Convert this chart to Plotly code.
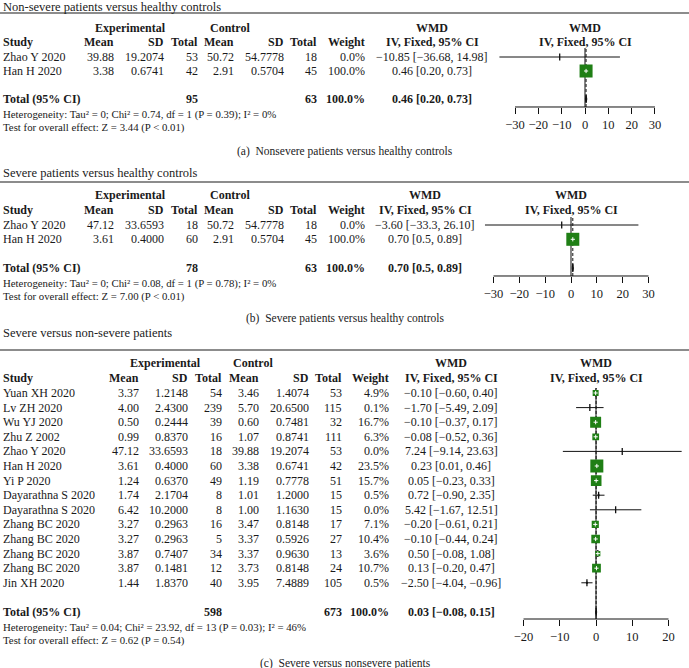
import math
import plotly.graph_objects as go

W, H = 689, 668
FONT = "Liberation Serif"
GREEN = "#1f7f15"
TXT = "#1a1a1a"

# ---------------- DATA ----------------
# (a) Non-severe patients versus healthy controls
a_study = ["Zhao Y 2020", "Han H 2020"]
a_exp_mean = [39.88, 3.38]
a_exp_sd = [19.2074, 0.6741]
a_exp_n = [53, 42]
a_ctl_mean = [50.72, 2.91]
a_ctl_sd = [54.7778, 0.5704]
a_ctl_n = [18, 45]
a_weight = [0.0, 100.0]
a_est = [-10.85, 0.46]
a_lo = [-36.68, 0.20]
a_hi = [14.98, 0.73]
a_labels = ["−10.85 [−36.68, 14.98]", "0.46 [0.20, 0.73]"]
a_total_n = [95, 63]
a_pooled = [0.46, 0.20, 0.73]
a_pooled_label = "0.46 [0.20, 0.73]"
a_het = "Heterogeneity: Tau² = 0; Chi² = 0.74, df = 1 (P = 0.39); I² = 0%"
a_test = "Test for overall effect: Z = 3.44 (P < 0.01)"
a_ticks = [-30, -20, -10, 0, 10, 20, 30]

# (b) Severe patients versus healthy controls
b_study = ["Zhao Y 2020", "Han H 2020"]
b_exp_mean = [47.12, 3.61]
b_exp_sd = [33.6593, 0.4000]
b_exp_n = [18, 60]
b_ctl_mean = [50.72, 2.91]
b_ctl_sd = [54.7778, 0.5704]
b_ctl_n = [18, 45]
b_weight = [0.0, 100.0]
b_est = [-3.60, 0.70]
b_lo = [-33.3, 0.5]
b_hi = [26.10, 0.89]
b_labels = ["−3.60 [−33.3, 26.10]", "0.70 [0.5, 0.89]"]
b_total_n = [78, 63]
b_pooled = [0.70, 0.5, 0.89]
b_pooled_label = "0.70 [0.5, 0.89]"
b_het = "Heterogeneity: Tau² = 0; Chi² = 0.08, df = 1 (P = 0.78); I² = 0%"
b_test = "Test for overall effect: Z = 7.00 (P < 0.01)"
b_ticks = [-30, -20, -10, 0, 10, 20, 30]

# (c) Severe versus non-severe patients
c_study = ["Yuan XH 2020", "Lv ZH 2020", "Wu YJ 2020", "Zhu Z 2002", "Zhao Y 2020",
           "Han H 2020", "Yi P 2020", "Dayarathna S 2020", "Dayarathna S 2020",
           "Zhang BC 2020", "Zhang BC 2020", "Zhang BC 2020", "Zhang BC 2020", "Jin XH 2020"]
c_exp_mean = [3.37, 4.00, 0.50, 0.99, 47.12, 3.61, 1.24, 1.74, 6.42, 3.27, 3.27, 3.87, 3.87, 1.44]
c_exp_sd = [1.2148, 2.4300, 0.2444, 0.8370, 33.6593, 0.4000, 0.6370, 2.1704, 10.2000,
            0.2963, 0.2963, 0.7407, 0.1481, 1.8370]
c_exp_n = [54, 239, 39, 16, 18, 60, 49, 8, 8, 16, 5, 34, 12, 40]
c_ctl_mean = [3.46, 5.70, 0.60, 1.07, 39.88, 3.38, 1.19, 1.01, 1.00, 3.47, 3.37, 3.37, 3.73, 3.95]
c_ctl_sd = [1.4074, 20.6500, 0.7481, 0.8741, 19.2074, 0.6741, 0.7778, 1.2000, 1.1630,
            0.8148, 0.5926, 0.9630, 0.8148, 7.4889]
c_ctl_n = [53, 115, 32, 111, 53, 42, 51, 15, 15, 17, 27, 13, 24, 105]
c_weight = [4.9, 0.1, 16.7, 6.3, 0.0, 23.5, 15.7, 0.5, 0.0, 7.1, 10.4, 3.6, 10.7, 0.5]
c_est = [-0.10, -1.70, -0.10, -0.08, 7.24, 0.23, 0.05, 0.72, 5.42, -0.20, -0.10, 0.50, 0.13, -2.50]
c_lo = [-0.60, -5.49, -0.37, -0.52, -9.14, 0.01, -0.23, -0.90, -1.67, -0.61, -0.44, -0.08, -0.20, -4.04]
c_hi = [0.40, 2.09, 0.17, 0.36, 23.63, 0.46, 0.33, 2.35, 12.51, 0.21, 0.24, 1.08, 0.47, -0.96]
c_labels = ["−0.10 [−0.60, 0.40]", "−1.70 [−5.49, 2.09]", "−0.10 [−0.37, 0.17]",
            "−0.08 [−0.52, 0.36]", "7.24 [−9.14, 23.63]", "0.23 [0.01, 0.46]",
            "0.05 [−0.23, 0.33]", "0.72 [−0.90, 2.35]", "5.42 [−1.67, 12.51]",
            "−0.20 [−0.61, 0.21]", "−0.10 [−0.44, 0.24]", "0.50 [−0.08, 1.08]",
            "0.13 [−0.20, 0.47]", "−2.50 [−4.04, −0.96]"]
c_total_n = [598, 673]
c_pooled = [0.03, -0.08, 0.15]
c_pooled_label = "0.03 [−0.08, 0.15]"
c_het = "Heterogeneity: Tau² = 0.04; Chi² = 23.92, df = 13 (P = 0.03); I² = 46%"
c_test = "Test for overall effect: Z = 0.62 (P = 0.54)"
c_ticks = [-20, -10, 0, 10, 20]

titles = ["Non-severe patients versus healthy controls",
          "Severe patients versus healthy controls",
          "Severe versus non-severe patients"]
captions = ["(a)  Nonsevere patients versus healthy controls",
            "(b)  Severe patients versus healthy controls",
            "(c)  Severe versus nonsevere patients"]

# ---------------- LAYOUT GEOMETRY (pixels) ----------------
panels = [
    dict(study=a_study, em=a_exp_mean, es=a_exp_sd, en=a_exp_n, cm=a_ctl_mean, cs=a_ctl_sd,
         cn=a_ctl_n, w=a_weight, est=a_est, lo=a_lo, hi=a_hi, lab=a_labels, tot=a_total_n,
         pooled=a_pooled, plab=a_pooled_label, het=a_het, test=a_test, ticks=a_ticks,
         zero_px=585, ppu=2.333, xr=[-40, 40], row1=57, sp=14.0, top_row=0.36, axis_row=4.571,
         total_row=4, het_row=5.14, test_row=6.07, title_y=6.5, rule_y=13, cap_y=151,
         cols=[115, 165, 199, 235, 285, 318, 366], wmd_c=432, exp_c=130, ctl_c=230),
    dict(study=b_study, em=b_exp_mean, es=b_exp_sd, en=b_exp_n, cm=b_ctl_mean, cs=b_ctl_sd,
         cn=b_ctl_n, w=b_weight, est=b_est, lo=b_lo, hi=b_hi, lab=b_labels, tot=b_total_n,
         pooled=b_pooled, plab=b_pooled_label, het=b_het, test=b_test, ticks=b_ticks,
         zero_px=571, ppu=2.583, xr=[-36, 36], row1=225, sp=14.3, top_row=0.44, axis_row=4.566,
         total_row=4, het_row=5.06, test_row=6.03, title_y=173, rule_y=182, cap_y=318,
         cols=[115, 165, 199, 235, 285, 318, 366], wmd_c=425, exp_c=130, ctl_c=230),
    dict(study=c_study, em=c_exp_mean, es=c_exp_sd, en=c_exp_n, cm=c_ctl_mean, cs=c_ctl_sd,
         cn=c_ctl_n, w=c_weight, est=c_est, lo=c_lo, hi=c_hi, lab=c_labels, tot=c_total_n,
         pooled=c_pooled, plab=c_pooled_label, het=c_het, test=c_test, ticks=c_ticks,
         zero_px=596, ppu=3.625, xr=[-25, 25], row1=393, sp=14.6, top_row=0.66, axis_row=16.48,
         total_row=16, het_row=17.03, test_row=17.92, title_y=333, rule_y=350, cap_y=663,
         cols=[140, 189, 223, 260, 310, 343, 390], wmd_c=451, exp_c=165, ctl_c=253),
]

BODY = 12
SMALL = 10.8

fig = go.Figure()
annotations = []
shapes = []
layout_axes = {}


def fmt_minus(s):
    return s.replace("-", "−")


def ann(text, xpx, ypx, xanchor="left", size=BODY, bold=False, color=TXT):
    if bold:
        text = "<b>" + text + "</b>"
    annotations.append(dict(text=text, x=xpx / W, y=1 - ypx / H, xref="paper", yref="paper",
                            xanchor=xanchor, yanchor="middle", showarrow=False, borderpad=0,
                            font=dict(family=FONT, size=size, color=color)))


for i, p in enumerate(panels):
    n = i + 1
    xa = "x" if n == 1 else f"x{n}"
    ya = "y" if n == 1 else f"y{n}"
    xkey = "xaxis" if n == 1 else f"xaxis{n}"
    ykey = "yaxis" if n == 1 else f"yaxis{n}"

    def rpx(row, p=p):
        return p["row1"] + (row - 1) * p["sp"]

    x0 = (p["zero_px"] + p["xr"][0] * p["ppu"]) / W
    x1 = (p["zero_px"] + p["xr"][1] * p["ppu"]) / W
    top_px = rpx(p["top_row"])
    bot_px = rpx(p["axis_row"])
    layout_axes[xkey] = dict(domain=[x0, x1], range=p["xr"], anchor=ya, showgrid=False,
                             zeroline=False, showline=False, ticks="outside", ticklen=6,
                             tickwidth=1, tickcolor="#111", tickvals=p["ticks"],
                             ticktext=[fmt_minus(str(t)) for t in p["ticks"]],
                             tickfont=dict(family=FONT, size=12.5, color=TXT),
                             ticklabelstandoff=0, fixedrange=True)
    layout_axes[ykey] = dict(domain=[1 - bot_px / H, 1 - top_px / H],
                             range=[p["axis_row"], p["top_row"]], anchor=xa, visible=False,
                             fixedrange=True)

    rows = list(range(1, len(p["study"]) + 1))

    # CI lines
    lx, ly = [], []
    for r, lo, hi in zip(rows, p["lo"], p["hi"]):
        lx += [lo, hi, None]
        ly += [r, r, None]
    fig.add_trace(go.Scatter(x=lx, y=ly, xaxis=xa, yaxis=ya, mode="lines",
                             line=dict(color="#111", width=1), hoverinfo="skip",
                             showlegend=False))
    # point ticks
    fig.add_trace(go.Scatter(x=p["est"], y=rows, xaxis=xa, yaxis=ya, mode="markers",
                             marker=dict(symbol="line-ns-open", size=5, color="#111",
                                         opacity=1, line=dict(color="#111", width=1.3)),
                             hoverinfo="skip", showlegend=False))
    # weighted squares
    wmax = max(p["w"])
    sizes = [13 * math.sqrt(w / wmax) for w in p["w"]]
    colors = [GREEN if s >= 3 else "#111" for s in sizes]
    fig.add_trace(go.Scatter(x=p["est"], y=rows, xaxis=xa, yaxis=ya, mode="markers",
                             marker=dict(symbol="square", size=sizes, color=colors, opacity=1,
                                         line=dict(width=0)),
                             hoverinfo="skip", showlegend=False))
    # white centre marks inside squares
    cx = [e for e, s in zip(p["est"], sizes) if s >= 5]
    cy = [r for r, s in zip(rows, sizes) if s >= 5]
    fig.add_trace(go.Scatter(x=cx, y=cy, xaxis=xa, yaxis=ya, mode="markers",
                             marker=dict(symbol="cross-thin-open", size=3, color="white",
                                         opacity=1, line=dict(color="white", width=1)),
                             hoverinfo="skip", showlegend=False))
    # pooled diamond
    est, lo, hi = p["pooled"]
    tr = p["total_row"]
    fig.add_trace(go.Scatter(x=[lo, est, hi, est, lo], y=[tr, tr - 0.28, tr, tr + 0.28, tr],
                             xaxis=xa, yaxis=ya, mode="lines", fill="toself",
                             fillcolor="#111", line=dict(color="#111", width=1.2),
                             hoverinfo="skip", showlegend=False))

    # zero line, pooled dashed line, axis line
    shapes.append(dict(type="line", xref=xa, yref=f"{ya} domain", x0=0, x1=0, y0=0, y1=1,
                       layer="below", line=dict(color="#444", width=1.3)))
    shapes.append(dict(type="line", xref=xa, yref=f"{ya} domain", x0=est, x1=est, y0=0, y1=1,
                       layer="below", line=dict(color="#111", width=1, dash="3px,2px")))
    shapes.append(dict(type="line", xref=xa, yref=f"{ya} domain", x0=p["ticks"][0],
                       x1=p["ticks"][-1], y0=0, y1=0, line=dict(color="#111", width=1)))

    # title + rule + caption
    ann(titles[i], 2, p["title_y"], "left", size=12.5, color="#222")
    shapes.append(dict(type="line", xref="paper", yref="paper", x0=0, x1=1,
                       y0=1 - p["rule_y"] / H, y1=1 - p["rule_y"] / H,
                       line=dict(color="#666", width=1.6)))
    ann(captions[i], 345, p["cap_y"], "center", size=11.5, color="#222")

    c = p["cols"]
    # headers
    hr1, hr2 = rpx(-1.07), rpx(-0.04)
    ann("Experimental", p["exp_c"], hr1, "center", bold=True)
    ann("Control", p["ctl_c"], hr1, "center", bold=True)
    ann("WMD", p["wmd_c"], hr1, "center", bold=True)
    ann("WMD", p["zero_px"], hr1, "center", bold=True)
    ann("Study", 2, hr2, "left", bold=True)
    for txt, col in zip(["Mean", "SD", "Total", "Mean", "SD", "Total", "Weight"], c):
        ann(txt, col, hr2, "right", bold=True)
    ann("IV, Fixed, 95% CI", p["wmd_c"], hr2, "center", bold=True)
    ann("IV, Fixed, 95% CI", p["zero_px"], hr2, "center", bold=True)

    # study rows
    for j, r in enumerate(rows):
        y = rpx(r)
        ann(p["study"][j], 2, y, "left")
        vals = [f"{p['em'][j]:.2f}", f"{p['es'][j]:.4f}", str(p["en"][j]),
                f"{p['cm'][j]:.2f}", f"{p['cs'][j]:.4f}", str(p["cn"][j]),
                f"{p['w'][j]:.1f}%"]
        for v, col in zip(vals, c):
            ann(v, col, y, "right")
        ann(p["lab"][j], p["wmd_c"], y, "center")

    # total row
    y = rpx(tr)
    ann("Total (95% CI)", 2, y, "left", bold=True)
    ann(str(p["tot"][0]), c[2], y, "right", bold=True)
    ann(str(p["tot"][1]), c[5], y, "right", bold=True)
    ann(f"{sum(p['w']):.1f}%", c[6], y, "right", bold=True)
    ann(p["plab"], p["wmd_c"], y, "center", bold=True)
    ann(p["het"], 2, rpx(p["het_row"]), "left", size=SMALL)
    ann(p["test"], 2, rpx(p["test_row"]), "left", size=SMALL)

fig.update_layout(width=W, height=H, margin=dict(l=0, r=0, t=0, b=0),
                  paper_bgcolor="white", plot_bgcolor="rgba(0,0,0,0)",
                  annotations=annotations, shapes=shapes, showlegend=False,
                  font=dict(family=FONT, color=TXT), **layout_axes)

fig.write_html("out.html", config={"displayModeBar": False},
               post_script="document.body.style.margin='0';document.body.style.padding='0';")
